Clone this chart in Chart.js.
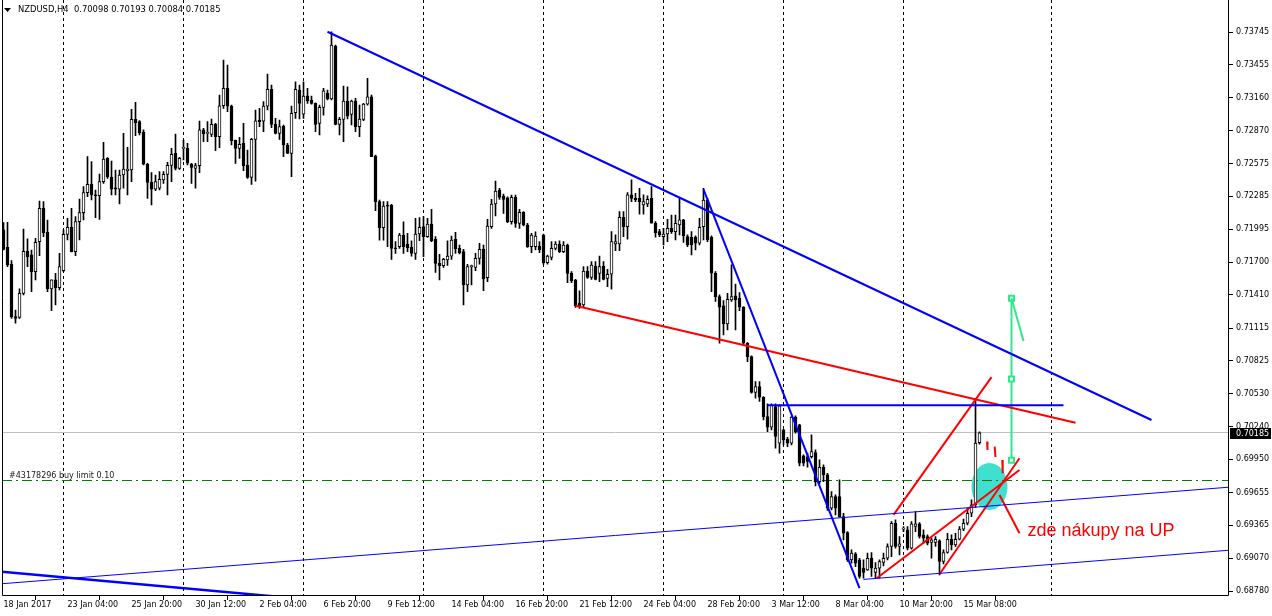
<!DOCTYPE html>
<html><head><meta charset="utf-8">
<script src="https://cdn.jsdelivr.net/npm/chart.js@4.4.1/dist/chart.umd.min.js"></script>
<style>html,body{margin:0;padding:0;background:#fff;overflow:hidden}canvas{display:block}</style>
</head><body>
<canvas id="c" width="1272" height="616"></canvas>
<script>
const symbolLabel = 'NZDUSD,H4';
const headerValues = ['0.70098', '0.70193', '0.70084', '0.70185'];

const opens = [
.71987,.71833,.71682,.71217,.71211,.71424,.71800,.71765,.71617,.71883,
.72179,.71966,.71463,.71543,.71475,.71626,.71948,.72010,.71794,.72061,
.72141,.72318,.72392,.72297,.72291,.72416,.72623,.72454,.72360,.72348,
.72475,.72513,.72519,.72969,.72949,.72854,.72570,.72410,.72348,.72357,
.72431,.72481,.72561,.72667,.72534,.72712,.72712,.72570,.72534,.72558,
.72875,.72845,.72836,.72925,.72815,.73090,.73244,.73087,.72785,.72711,
.72756,.72563,.72454,.72791,.72963,.72954,.73087,.73235,.72925,.72845,
.72910,.72741,.72667,.73028,.73229,.73016,.73179,.73141,.73111,.72933,
.73075,.73200,.73150,.73620,.72925,.72969,.73132,.73013,.73132,.72904,
.72969,.73105,.73170,.72643,.72238,.72007,.72208,.72208,.71829,.71838,
.71942,.71862,.71832,.71779,.71951,.72016,.71927,.72039,.71903,.71690,
.71669,.71720,.71755,.71903,.71823,.71794,.71498,.71661,.71655,.71735,
.71817,.71563,.72016,.72217,.72341,.72288,.72273,.72060,.72276,.72045,
.72143,.72031,.71838,.71838,.71844,.71942,.71696,.71743,.71823,.71862,
.71794,.71853,.71601,.71542,.71335,.71320,.71622,.71566,.71666,.71601,
.71666,.71557,.71593,.71863,.71863,.72099,.72017,.72298,.72268,.72268,
.72209,.72218,.72268,.72046,.71972,.71928,.71951,.72002,.71972,.72031,
.72076,.71928,.71922,.71922,.71869,.72017,.72253,.71922,.71602,.71395,
.71312,.71152,.71365,.71401,.71380,.71300,.70981,.70862,.70543,.70596,
.70501,.70329,.70235,.70418,.70093,.70211,.70128,.70093,.70324,.70255,
.69980,.69974,.69974,.70010,.69752,.69879,.69811,.69515,.69619,.69619,
.69441,.69299,.69057,.69110,.69057,.68983,.68968,.69071,.68944,.68983,
.69033,.69071,.69175,.69382,.69175,.69329,.69323,.69160,.69353,.69376,
.69279,.69264,.69211,.69211,.69225,.69042,.69122,.69240,.69190,.69240,
.69329,.69382,.69471,.69545,.70098];
const highs = [
.72052,.72055,.71714,.71276,.71463,.71995,.71907,.71809,.71913,.72244,
.72238,.72075,.71543,.71602,.71779,.71987,.72090,.72179,.72105,.72262,
.72371,.72638,.72594,.72342,.72484,.72765,.72629,.72599,.72519,.72519,
.72845,.72721,.73058,.73120,.72958,.72875,.72579,.72496,.72475,.72505,
.72505,.72587,.72712,.72839,.72632,.72786,.72756,.72579,.72579,.72954,
.72889,.72949,.72972,.72933,.73185,.73496,.73451,.73096,.72785,.72809,
.72933,.72697,.72800,.73052,.73067,.73126,.73371,.73274,.72978,.72963,
.72919,.72756,.73087,.73303,.73274,.73303,.73244,.73176,.73117,.73096,
.73244,.73229,.73747,.73629,.72987,.73265,.73259,.73141,.73155,.73096,
.73111,.73333,.73185,.72652,.72253,.72238,.72238,.72214,.71883,.71957,
.72060,.71957,.71891,.72090,.72096,.72105,.72090,.72170,.71927,.71770,
.71735,.71891,.71933,.71965,.71853,.71815,.71681,.71675,.71779,.71868,
.71853,.72081,.72259,.72421,.72356,.72306,.72282,.72297,.72297,.72170,
.72149,.72045,.71957,.71971,.71883,.71951,.71764,.71883,.71883,.71891,
.71883,.71862,.71616,.71548,.71447,.71661,.71661,.71705,.71705,.71755,
.71705,.71637,.71972,.71943,.72150,.72150,.72319,.72431,.72313,.72357,
.72298,.72289,.72372,.72061,.71993,.72002,.72082,.72120,.72120,.72268,
.72082,.71943,.71972,.71934,.72091,.72357,.72268,.71934,.71617,.71410,
.71359,.71425,.71676,.71507,.71431,.71306,.70987,.70868,.70640,.70640,
.70507,.70442,.70442,.70442,.70433,.70217,.70146,.70329,.70335,.70261,
.69989,.70004,.70167,.70033,.69945,.69900,.69826,.69663,.69634,.69767,
.69471,.69308,.69145,.69122,.69071,.69057,.69116,.69122,.69033,.69057,
.69116,.69199,.69397,.69412,.69264,.69353,.69353,.69397,.69486,.69388,
.69323,.69279,.69249,.69264,.69234,.69145,.69293,.69279,.69293,.69353,
.69418,.69515,.69589,.70492,.70193];
const lows = [
.71809,.71661,.71202,.71158,.71202,.71409,.71661,.71439,.71543,.71759,
.71927,.71439,.71270,.71321,.71454,.71617,.71898,.71791,.71759,.71898,
.72075,.72283,.72253,.72096,.72081,.72401,.72445,.72297,.72297,.72217,
.72357,.72297,.72416,.72824,.72830,.72564,.72268,.72209,.72336,.72342,
.72401,.72297,.72416,.72519,.72525,.72608,.72564,.72401,.72357,.72496,
.72771,.72771,.72815,.72691,.72717,.73067,.73037,.72741,.72578,.72623,
.72513,.72445,.72392,.72421,.72904,.72859,.73052,.72895,.72839,.72791,
.72637,.72667,.72460,.72978,.72972,.72978,.73111,.73105,.72859,.72830,
.73007,.73141,.73141,.72919,.72830,.72771,.72972,.72919,.72859,.72815,
.72957,.73096,.72637,.72158,.71897,.71897,.71838,.71726,.71779,.71823,
.71779,.71794,.71755,.71726,.71891,.71749,.71921,.71883,.71610,.71542,
.71655,.71672,.71726,.71779,.71773,.71320,.71439,.71498,.71625,.71684,
.71448,.71527,.72001,.72111,.72259,.72134,.72051,.72039,.72010,.72001,
.72022,.71832,.71785,.71809,.71785,.71684,.71684,.71720,.71809,.71785,
.71785,.71519,.71519,.71299,.71291,.71299,.71557,.71548,.71542,.71527,
.71542,.71483,.71460,.71803,.71803,.71928,.71904,.72239,.72239,.72126,
.72126,.72194,.72046,.71922,.71928,.71854,.71883,.71957,.71898,.71943,
.71875,.71839,.71765,.71809,.71854,.71898,.71883,.71439,.71351,.70981,
.71055,.71099,.71351,.71099,.71271,.70966,.70818,.70537,.70492,.70463,
.70300,.70196,.70211,.70048,.70004,.70078,.70063,.70078,.70181,.69891,
.69891,.69879,.69959,.69714,.69731,.69752,.69495,.69501,.69456,.69435,
.69234,.69042,.69027,.68997,.68894,.68894,.68962,.68909,.68894,.68894,
.69003,.69057,.69086,.69160,.69101,.69308,.69145,.69151,.69308,.69249,
.69205,.69190,.69071,.69175,.68923,.69021,.69116,.69145,.69175,.69234,
.69317,.69367,.69441,.69520,.70084];
const closes = [
.71815,.71676,.71217,.71202,.71424,.71797,.71750,.71617,.71877,.72179,
.71963,.71463,.71543,.71475,.71661,.71948,.72010,.71794,.72061,.72141,
.72318,.72392,.72297,.72291,.72416,.72617,.72460,.72348,.72348,.72475,
.72528,.72528,.72969,.72940,.72851,.72570,.72410,.72348,.72416,.72437,
.72481,.72561,.72658,.72534,.72623,.72718,.72579,.72543,.72558,.72875,
.72839,.72845,.72925,.72815,.73090,.73244,.73087,.72779,.72711,.72747,
.72557,.72454,.72791,.72957,.72948,.73087,.73235,.72925,.72845,.72904,
.72741,.72667,.73022,.73235,.73111,.73176,.73132,.73111,.72925,.73075,
.73223,.73150,.73629,.72925,.72969,.73132,.72998,.73132,.72904,.72972,
.73105,.73170,.72637,.72238,.72007,.72199,.72199,.71823,.71820,.71942,
.71838,.71829,.71779,.71951,.72010,.71927,.72039,.71891,.71690,.71669,
.71726,.71755,.71897,.71820,.71785,.71498,.71661,.71661,.71735,.71815,
.71551,.72022,.72217,.72333,.72276,.72259,.72060,.72276,.72045,.72143,
.72031,.71838,.71942,.71933,.71809,.71696,.71755,.71823,.71862,.71794,
.71853,.71601,.71536,.71311,.71311,.71622,.71566,.71675,.71548,.71661,
.71548,.71592,.71883,.71883,.72099,.72017,.72298,.72268,.72253,.72239,
.72239,.72259,.72046,.71963,.71943,.71951,.72002,.71972,.72046,.72076,
.71934,.71854,.71854,.71869,.72011,.72253,.71898,.71602,.71395,.71300,
.71152,.71371,.71395,.71365,.71300,.70981,.70862,.70543,.70596,.70501,
.70329,.70235,.70433,.70152,.70424,.70122,.70093,.70324,.70196,.69915,
.69915,.69930,.70019,.69752,.69879,.69811,.69515,.69619,.69515,.69441,
.69293,.69057,.69116,.69027,.68909,.68944,.69071,.68983,.68983,.69042,
.69071,.69175,.69382,.69175,.69199,.69329,.69160,.69376,.69376,.69264,
.69249,.69205,.69234,.69240,.69042,.69122,.69240,.69190,.69240,.69329,
.69382,.69471,.69545,.70093,.70185];

const xTickBars = [0,16,32,48,64,80,96,112,128,144,160,176,192,208,224,240];
const xTickLabels = ['18 Jan 2017','23 Jan 04:00','25 Jan 20:00','30 Jan 12:00','2 Feb 04:00','6 Feb 20:00',
  '9 Feb 12:00','14 Feb 04:00','16 Feb 20:00','21 Feb 12:00','24 Feb 04:00','28 Feb 20:00',
  '3 Mar 12:00','8 Mar 04:00','10 Mar 20:00','15 Mar 08:00'];
const yTicks = [0.73745,0.73455,0.73160,0.72870,0.72575,0.72285,0.71995,0.71700,0.71410,
  0.71115,0.70825,0.70530,0.70240,0.69950,0.69655,0.69365,0.69070,0.68780];
const separatorBars = [15,45,75,105,135,165,195,225,262];
const currentPrice = 0.70185;
const buyLimitPrice = 0.69758;
const buyLimitText = '#43178296 buy limit 0.10';
const noteText = 'zde nákupy na UP';
const noteAnchor = [256, 0.69314];

// drawn objects: [bar, price] anchor points
const blueMainLine = [[81, 0.73747], [287, 0.70299]];
const blueSteepLine = [[175, 0.72348], [214, 0.68805]];
const blueLevelLine = [[191, 0.70430], [265, 0.70430]];
const blueThinUpper = [[-1, 0.68843], [307, 0.69704]];
const blueThinLower = [[215, 0.68883], [307, 0.69144]];
const blueOldLine = [[-1, 0.68953], [70, 0.68725]];
const redLongLine = [[143, 0.71314], [268, 0.70275]];
const redUpperLine = [[222.5, 0.69456], [247, 0.70679]];
const redMiddleLine = [[218.3, 0.68894], [254, 0.69855]];
const redLowerLine = [[234, 0.68929], [254, 0.69959]];
const redPointer = [[249, 0.69633], [254, 0.69293]];
const redTicks = [[[245.9, 0.70107], [246, 0.70033]], [[247.8, 0.70062], [248, 0.69970]], [[249.7, 0.69944], [249.8, 0.69826]]];
const greenTarget = [[252, 0.71380], [252, 0.70663], [252, 0.69941]];
const greenBranch = [[252, 0.71380], [255, 0.71001]];
const ellipseCenter = [246.5, 0.69709];
const ellipseRadius = [4.5, 0.00209];

// axis calibration of the MT4 window: bar 0 centre pixel, px per bar, price at pixel 32, px per price unit
const axisCalib = {bar0: 3.5, barPx: 4, refPrice: 0.73745, refPx: 32, pxPerUnit: 11259};

const candleBars = opens.map((o, i) => ({x: i, y: [o, closes[i]]}));
const wickBars = opens.map((o, i) => ({x: i, y: [lows[i], highs[i]]}));
const bodyColors = opens.map((o, i) => closes[i] >= o ? '#ffffff' : '#000000');

const pts = a => a.map(p => ({x: p[0], y: p[1]}));
function lineDs(a, color, width, extra) {
  return Object.assign({type: 'line', data: pts(a), borderColor: color, borderWidth: width,
    pointRadius: 0, fill: false, tension: 0, clip: 0, order: 0}, extra || {});
}

const datasets = [
  {type: 'bar', data: wickBars, backgroundColor: '#000', borderWidth: 0, barThickness: 1, grouped: false, order: 3, minBarLength: 1},
  {type: 'bar', data: candleBars, backgroundColor: bodyColors, borderColor: '#000', borderWidth: 1, borderSkipped: false,
    barThickness: 3, grouped: false, order: 2, minBarLength: 1},
  lineDs(blueMainLine, '#0000ff', 2),
  lineDs(blueSteepLine, '#0000ff', 2),
  lineDs(blueLevelLine, '#0000ff', 2),
  lineDs(blueThinUpper, '#0000ff', 1),
  lineDs(blueThinLower, '#0000ff', 1),
  lineDs(blueOldLine, '#0000ff', 2.5),
  lineDs(redLongLine, '#ff0000', 2),
  lineDs(redUpperLine, '#ff0000', 2),
  lineDs(redMiddleLine, '#ff0000', 2),
  lineDs(redLowerLine, '#ff0000', 2),
  lineDs(redPointer, '#ff0000', 2),
  ...redTicks.map(t => lineDs(t, '#ff0000', 2)),
  lineDs(greenBranch, '#2ee88a', 2),
  lineDs(greenTarget, '#2ee88a', 2, {pointRadius: 3.5, pointStyle: 'rect', pointBackgroundColor: '#ffffff',
    pointBorderColor: '#2ee88a', pointBorderWidth: 2})
];

const FONT = '8px "DejaVu Sans"';

const mt4Plugin = {
  id: 'mt4',
  beforeDatasetsDraw(chart) {
    const {ctx, chartArea: a, scales: {x, y}} = chart;
    ctx.save();
    ctx.beginPath(); ctx.rect(a.left, 0, a.right - a.left, a.bottom); ctx.clip();
    const cx = x.getPixelForValue(ellipseCenter[0]), cy = y.getPixelForValue(ellipseCenter[1]);
    const rx = x.getPixelForValue(ellipseCenter[0] + ellipseRadius[0]) - cx;
    const ry = cy - y.getPixelForValue(ellipseCenter[1] + ellipseRadius[1]);
    ctx.fillStyle = '#40e0d0';
    ctx.beginPath(); ctx.ellipse(cx, cy, rx, ry, 0, 0, Math.PI * 2); ctx.fill();
    ctx.strokeStyle = '#000'; ctx.lineWidth = 1; ctx.setLineDash([3, 3]);
    separatorBars.forEach(b => {
      const px = Math.round(x.getPixelForValue(b) - 0.5) + 0.5;
      ctx.beginPath(); ctx.moveTo(px, 0); ctx.lineTo(px, a.bottom); ctx.stroke();
    });
    ctx.setLineDash([]);
    ctx.strokeStyle = '#c0c0c0';
    let py = Math.round(y.getPixelForValue(currentPrice) - 0.5) + 0.5;
    ctx.beginPath(); ctx.moveTo(a.left, py); ctx.lineTo(a.right, py); ctx.stroke();
    ctx.strokeStyle = '#008000'; ctx.setLineDash([10, 4, 2, 4]);
    py = Math.round(y.getPixelForValue(buyLimitPrice) - 0.5) + 0.5;
    ctx.beginPath(); ctx.moveTo(a.left, py); ctx.lineTo(a.right, py); ctx.stroke();
    ctx.setLineDash([]);
    ctx.fillStyle = '#1a1a1a'; ctx.font = FONT; ctx.textBaseline = 'alphabetic'; ctx.textAlign = 'left';
    ctx.fillText(buyLimitText, 9, py - 3);
    ctx.restore();
  },
  afterDatasetsDraw(chart) {
    const {ctx, scales: {x, y}} = chart;
    ctx.save();
    ctx.fillStyle = '#ff0000';
    ctx.font = '18px "Liberation Sans", Arial, sans-serif';
    ctx.textBaseline = 'middle'; ctx.textAlign = 'left';
    ctx.fillText(noteText, x.getPixelForValue(noteAnchor[0]), y.getPixelForValue(noteAnchor[1]));
    ctx.restore();
  },
  afterDraw(chart) {
    const {ctx, chartArea: a, scales: {y}} = chart;
    ctx.save();
    ctx.strokeStyle = '#000'; ctx.lineWidth = 1;
    ctx.beginPath();
    ctx.moveTo(a.left + 0.5, 0); ctx.lineTo(a.left + 0.5, a.bottom - 0.5);
    ctx.lineTo(a.right - 0.5, a.bottom - 0.5); ctx.lineTo(a.right - 0.5, 0);
    ctx.stroke();
    ctx.fillStyle = '#000';
    ctx.beginPath(); ctx.moveTo(4, 8); ctx.lineTo(11, 8); ctx.lineTo(7.5, 12); ctx.closePath(); ctx.fill();
    ctx.font = '8.4px "DejaVu Sans"'; ctx.textBaseline = 'middle'; ctx.textAlign = 'left';
    ctx.fillText(symbolLabel + '  ' + headerValues.join(' '), 18, 10);
    const py = Math.round(y.getPixelForValue(currentPrice));
    ctx.fillStyle = '#000';
    ctx.fillRect(a.right + 1, py - 5, 41, 11);
    ctx.fillStyle = '#fff'; ctx.font = FONT;
    ctx.fillText(currentPrice.toFixed(5), a.right + 7, py + 0.5);
    ctx.restore();
  }
};

const chart = new Chart(document.getElementById('c'), {
  type: 'bar',
  data: {datasets},
  options: {
    responsive: false, animation: false, devicePixelRatio: 1,
    layout: {padding: {left: 2, top: 1, right: 0, bottom: 0}, autoPadding: false},
    plugins: {legend: {display: false}, tooltip: {enabled: false}},
    events: [],
    scales: {
      x: {
        type: 'linear', offset: false, min: -0.375, max: 306.375,
        afterFit(s) { s.height = 20; },
        afterBuildTicks(s) { s.ticks = xTickBars.map(v => ({value: v})); },
        grid: {drawOnChartArea: false, drawTicks: true, tickLength: 4, color: '#000'},
        border: {display: false},
        ticks: {autoSkip: false, maxRotation: 0, minRotation: 0, align: 'start', padding: 0,
          color: '#000', font: {family: 'DejaVu Sans', size: 8},
          callback: (v, i) => xTickLabels[i]}
      },
      y: {
        type: 'linear', position: 'right', min: 0.687357, max: 0.740203, beginAtZero: false,
        afterFit(s) { s.width = 43; },
        afterBuildTicks(s) { s.ticks = yTicks.map(v => ({value: v})); },
        grid: {drawOnChartArea: false, drawTicks: true, tickLength: 4, color: '#000'},
        border: {display: false},
        ticks: {autoSkip: false, padding: 3, color: '#000', font: {family: 'DejaVu Sans', size: 8},
          callback: v => Number(v).toFixed(5)}
      }
    }
  },
  plugins: [mt4Plugin]
});

// calibrate axis ranges so that bars and prices sit where the MT4 window puts them
(function calibrate() {
  const a = chart.chartArea, c = axisCalib;
  chart.options.scales.x.min = (a.left - c.bar0) / c.barPx;
  chart.options.scales.x.max = (a.right - c.bar0) / c.barPx;
  chart.options.scales.y.max = c.refPrice + (c.refPx - a.top) / c.pxPerUnit;
  chart.options.scales.y.min = c.refPrice - (a.bottom - c.refPx) / c.pxPerUnit;
  chart.update();
})();
</script>
</body></html>
